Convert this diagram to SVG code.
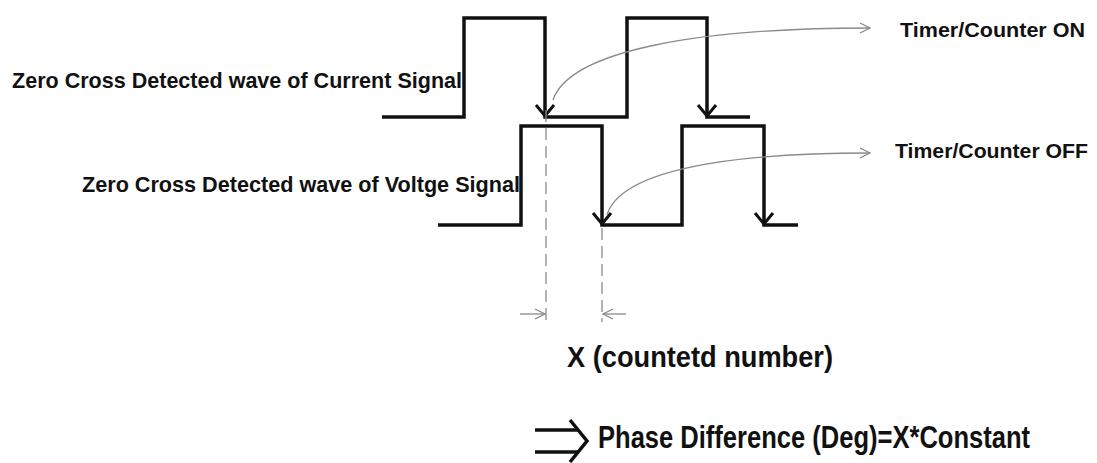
<svg xmlns="http://www.w3.org/2000/svg" width="1097" height="463" viewBox="0 0 1097 463">
<defs>
<style>
.wave{fill:none;stroke:#111;stroke-width:3.5;stroke-linejoin:miter}
.head{fill:none;stroke:#111;stroke-width:3}
.thin{fill:none;stroke:#8a8a8a;stroke-width:1.3}
.dash{fill:none;stroke:#8a8a8a;stroke-width:1.3;stroke-dasharray:12 6}
.lbl{font-family:"Liberation Sans",Arial,sans-serif;font-weight:bold;fill:#111}
</style>
<marker id="open" viewBox="0 0 12 12" refX="11" refY="6" markerWidth="12" markerHeight="12" markerUnits="userSpaceOnUse" orient="auto">
<path d="M1,1 L11,6 L1,11" fill="none" stroke="#8a8a8a" stroke-width="1.3"/>
</marker>
</defs>
<rect width="1097" height="463" fill="#fff"/>
<g id="current-wave">
<path class="wave" d="M382,117 H464 V18 H545 V117 H627 V18 H707 V117 H750"/>
<path class="head" d="M536,105 L545,116 L554,105"/>
<path class="head" d="M698,105 L707,116 L716,105"/>
</g>
<g id="voltage-wave">
<path class="wave" d="M438,225 H521 V126 H602 V225 H682 V126 H764 V225 H798"/>
<path class="head" d="M593,213 L602,224 L611,213"/>
<path class="head" d="M755,213 L764,224 L773,213"/>
</g>
<g id="connectors">
<path class="thin" d="M553,100 C570,50 700,28 870,28" marker-end="url(#open)"/>
<path class="thin" d="M607,215 C620,172 720,153 870,153" marker-end="url(#open)"/>
<line class="dash" x1="546" y1="110" x2="546" y2="322"/>
<line class="dash" x1="602" y1="228" x2="602" y2="322"/>
<line class="thin" x1="520" y1="314" x2="545" y2="314" marker-end="url(#open)"/>
<line class="thin" x1="626" y1="314" x2="603" y2="314" marker-end="url(#open)"/>
</g>
<g id="implies-arrow">
<path d="M535,430 H578 M535,452 H578" fill="none" stroke="#111" stroke-width="3.5"/>
<path d="M570,420 L587,441 L570,462" fill="none" stroke="#111" stroke-width="3.5"/>
</g>
<g id="label-current"><text class="lbl" x="12" y="88" font-size="22" textLength="450" lengthAdjust="spacingAndGlyphs">Zero Cross Detected wave of Current Signal</text></g>
<g id="label-voltage"><text class="lbl" x="82" y="192" font-size="22" textLength="438" lengthAdjust="spacingAndGlyphs">Zero Cross Detected wave of Voltge Signal</text></g>
<g id="label-on"><text class="lbl" x="900" y="37" font-size="20" textLength="185" lengthAdjust="spacingAndGlyphs">Timer/Counter ON</text></g>
<g id="label-off"><text class="lbl" x="895" y="158" font-size="20" textLength="193" lengthAdjust="spacingAndGlyphs">Timer/Counter OFF</text></g>
<g id="label-x"><text class="lbl" x="567" y="367" font-size="30" textLength="266" lengthAdjust="spacingAndGlyphs">X (countetd number)</text></g>
<g id="label-phase"><text class="lbl" transform="translate(598,448) scale(0.824,1)" x="0" y="0" font-size="31">Phase Difference (Deg)=X*Constant</text></g>
</svg>
